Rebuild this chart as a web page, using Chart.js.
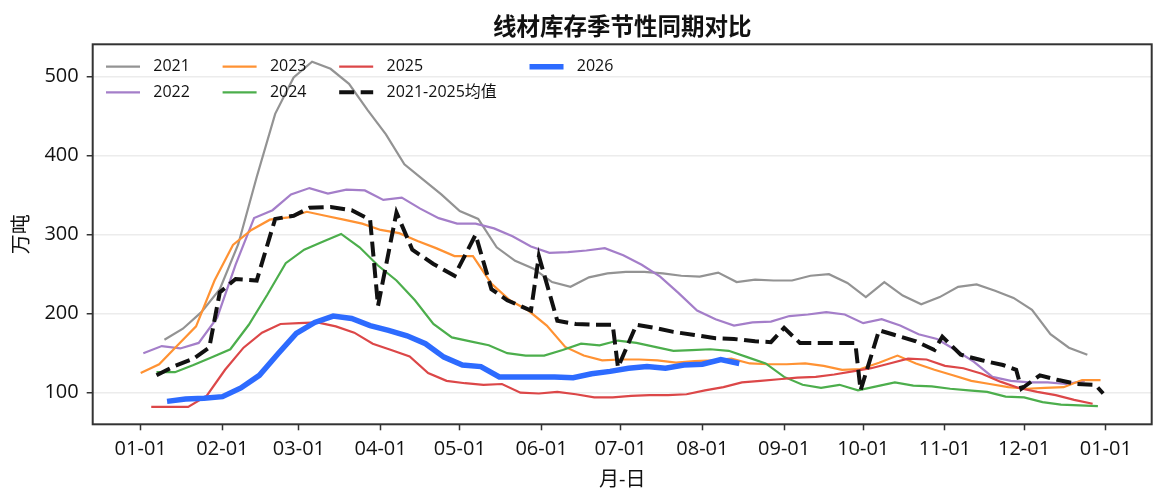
<!DOCTYPE html>
<html>
<head>
<meta charset="utf-8">
<title>线材库存季节性同期对比</title>
<script src="https://cdn.jsdelivr.net/npm/chart.js@4.4.1/dist/chart.umd.min.js"></script>
<style>
    html, body { margin: 0; padding: 0; background: #fff; }
    canvas { display: block; }
</style>
</head>
<body>
<canvas id="chart" width="1166" height="503"></canvas>
<script>
// 周度库存（万吨），日期折算到同一参考年（闰年）
const dates2021 = ['01-10','01-17','01-24','01-31','02-07','02-14','02-21','02-28','03-06','03-13','03-20','03-27','04-03','04-10','04-17','04-24','05-01','05-08','05-15','05-22','05-29','06-05','06-12','06-19','06-26','07-03','07-10','07-17','07-24','07-31','08-07','08-14','08-21','08-28','09-04','09-11','09-18','09-25','10-02','10-09','10-16','10-23','10-30','11-06','11-13','11-20','11-27','12-04','12-11','12-18','12-25'];
const inv2021 = [167,181,202,231,288,373,453,499,519,510,491,458,427,389,370,351,330,320,284,267,257,240,234,246,251,253,253,251,248,247,252,240,243,242,242,248,250,239,221,240,223,212,221,234,237,229,220,205,174,157,148];

const dates2022 = ['01-02','01-09','01-16','01-23','01-30','02-06','02-13','02-20','02-27','03-05','03-12','03-19','03-26','04-02','04-09','04-16','04-23','04-30','05-07','05-14','05-21','05-28','06-04','06-11','06-18','06-25','07-02','07-09','07-16','07-23','07-30','08-06','08-13','08-20','08-27','09-03','09-10','09-17','09-24','10-01','10-08','10-15','10-22','10-29','11-05','11-12','11-19','11-26','12-03','12-10','12-17','12-24'];
const inv2022 = [150,159,156,163,195,262,321,331,351,359,352,357,356,344,347,333,321,314,314,308,298,285,277,278,280,283,274,262,247,226,204,193,185,189,190,197,199,202,199,188,193,185,174,168,154,139,120,115,113,113,111,115];

const dates2023 = ['01-01','01-08','01-15','01-22','01-29','02-05','02-12','02-19','02-26','03-04','03-11','03-18','03-25','04-01','04-08','04-15','04-22','04-29','05-06','05-13','05-20','05-27','06-03','06-10','06-17','06-24','07-01','07-08','07-15','07-22','07-29','08-05','08-12','08-19','08-26','09-02','09-09','09-16','09-23','09-30','10-07','10-14','10-21','10-28','11-04','11-11','11-18','11-25','12-02','12-09','12-16','12-23','12-30'];
const inv2023 = [125,136,160,184,242,287,306,319,322,329,324,319,314,306,302,292,283,273,273,238,217,204,185,158,147,141,142,142,141,138,140,141,143,137,136,136,137,134,129,130,138,147,137,129,122,115,111,107,105,106,107,116,116];

const dates2024 = ['01-07','01-14','01-21','01-28','02-04','02-11','02-18','02-25','03-03','03-10','03-17','03-24','03-31','04-07','04-14','04-21','04-28','05-05','05-12','05-19','05-26','06-02','06-09','06-16','06-23','06-30','07-07','07-14','07-21','07-28','08-04','08-11','08-18','08-25','09-01','09-08','09-15','09-22','09-29','10-06','10-13','10-20','10-27','11-03','11-10','11-17','11-24','12-01','12-08','12-15','12-22','12-29'];
const inv2024 = [126,126,135,145,155,186,224,264,281,291,301,284,261,242,217,187,170,165,160,150,147,147,154,162,160,166,163,158,153,154,155,153,145,137,120,110,106,110,103,108,113,109,108,105,103,101,95,94,88,85,84,83];

const dates2025 = ['01-05','01-12','01-19','01-26','02-02','02-09','02-16','02-23','03-01','03-08','03-15','03-22','03-29','04-05','04-12','04-19','04-26','05-03','05-10','05-17','05-24','05-31','06-07','06-14','06-21','06-28','07-05','07-12','07-19','07-26','08-02','08-09','08-16','08-23','08-30','09-06','09-13','09-20','09-27','10-04','10-11','10-18','10-25','11-01','11-08','11-15','11-22','11-29','12-06','12-13','12-20','12-27'];
const inv2025 = [82,82,82,96,129,157,176,187,188,189,184,176,162,154,146,125,115,112,110,111,100,99,101,98,94,94,96,97,97,98,103,107,113,115,117,119,120,123,127,131,137,143,142,134,131,124,114,106,101,97,91,86];

const dates2026 = ['01-11','01-18','01-25','02-01','02-08','02-15','02-22','02-29','03-07','03-14','03-21','03-28','04-04','04-11','04-18','04-25','05-02','05-09','05-16','05-23','05-30','06-06','06-13','06-20','06-27','07-04','07-11','07-18','07-25','08-01','08-08','08-15'];
const inv2026 = [89,92,93,95,106,122,149,175,189,197,194,185,179,172,162,145,135,133,120,120,120,120,119,124,127,131,133,131,135,136,142,137];

const avgDates = ['01-07','01-14','01-21','01-27','01-31','02-06','02-14','02-21','02-28','03-05','03-13','03-21','03-28','03-31','04-07','04-13','04-21','04-29','05-07','05-13','05-19','05-28','05-31','06-07','06-14','06-21','06-28','06-30','07-07','07-14','07-21','07-29','08-06','08-13','08-21','08-27','09-01','09-07','09-15','09-24','09-28','09-30','10-07','10-13','10-21','10-28','10-31','11-07','11-15','11-23','11-28','11-30','12-07','12-14','12-21','12-28','12-31'];
const avgValues = [122,134,143,157,227,244,242,320,324,334,335,331,319,210,328,281,263,248,300,231,217,204,273,191,187,186,186,132,186,182,177,173,169,168,165,164,182,163,163,163,163,103,179,173,165,154,171,148,141,135,129,105,122,116,111,110,99];

const xTickLabels = ['01-01','02-01','03-01','04-01','05-01','06-01','07-01','08-01','09-01','10-01','11-01','12-01','01-01'];
const yTicks = [100, 200, 300, 400, 500];

const FONT = '"Open Sans", "Noto Sans CJK SC", sans-serif';
const TITLE = '线材库存季节性同期对比';
const REF_YEAR = 2024;
const DAY = 86400000;

function toDay(md) {
    const [m, d] = md.split('-').map(Number);
    return (Date.UTC(REF_YEAR, m - 1, d) - Date.UTC(REF_YEAR, 0, 1)) / DAY;
}

function toPoints(dates, values) {
    return dates.map((d, i) => ({ x: toDay(d), y: values[i] }));
}

// tick i -> first day of month i (i = 12 gives next 01-01)
const xTickDays = xTickLabels.map((_, i) => (Date.UTC(REF_YEAR, i, 1) - Date.UTC(REF_YEAR, 0, 1)) / DAY);

function line(label, dates, values, color, width, order, dash) {
    return {
        label,
        data: toPoints(dates, values),
        borderColor: color,
        backgroundColor: color,
        borderWidth: width,
        borderDash: dash || [],
        pointRadius: 0,
        tension: 0,
        fill: false,
        order
    };
}

// draws the four spines round the plot area
const framePlugin = {
    id: 'frame',
    afterDraw(chart) {
        const { ctx, chartArea: a } = chart;
        ctx.save();
        ctx.strokeStyle = '#333';
        ctx.lineWidth = 2;
        ctx.strokeRect(a.left, a.top, a.right - a.left, a.bottom - a.top);
        ctx.restore();
    }
};

// title centred over the plot area, not the canvas
const titlePlugin = {
    id: 'areaTitle',
    afterDraw(chart) {
        const { ctx, chartArea: a } = chart;
        ctx.save();
        ctx.font = 'bold 23.5px "Noto Sans CJK SC", sans-serif';
        ctx.fillStyle = '#111';
        ctx.textAlign = 'center';
        ctx.textBaseline = 'middle';
        ctx.fillText(TITLE, (a.left + a.right) / 2, 26);
        ctx.restore();
    }
};

// legend inside the plot, 2 rows, filled column by column
const legendPlugin = {
    id: 'cornerLegend',
    afterDraw(chart) {
        const { ctx, chartArea: a } = chart;
        const sets = chart.data.datasets;
        const rows = 2, handle = 34, textGap = 13.3, colGap = 32.7;
        ctx.save();
        ctx.font = '16px ' + FONT;
        ctx.textBaseline = 'middle';
        let x = a.left + 13.3;
        for (let c = 0; c * rows < sets.length; c++) {
            let w = 0;
            for (let r = 0; r < rows; r++) {
                const ds = sets[c * rows + r];
                if (!ds) break;
                const y = a.top + 22.4 + r * 25.6;
                ctx.beginPath();
                ctx.setLineDash(ds.borderDash);
                ctx.lineWidth = ds.borderWidth;
                ctx.strokeStyle = ds.borderColor;
                ctx.moveTo(x, y);
                ctx.lineTo(x + handle, y);
                ctx.stroke();
                ctx.setLineDash([]);
                ctx.fillStyle = '#111';
                ctx.fillText(ds.label, x + handle + textGap, y);
                w = Math.max(w, ctx.measureText(ds.label).width);
            }
            x += handle + textGap + w + colGap;
        }
        ctx.restore();
    }
};

const datasets = [
    line('2021', dates2021, inv2021, '#939393', 2.2, 7),
    line('2022', dates2022, inv2022, '#a47ec9', 2.2, 6),
    line('2023', dates2023, inv2023, '#ff9233', 2.2, 5),
    line('2024', dates2024, inv2024, '#4cae4c', 2.2, 4),
    line('2025', dates2025, inv2025, '#dc4748', 2.2, 3),
    line('2021-2025均值', avgDates, avgValues, '#111111', 4, 2, [15, 6.5]),
    line('2026', dates2026, inv2026, '#2d6bff', 5.5, 1)
];

new Chart(document.getElementById('chart').getContext('2d'), {
    type: 'line',
    data: { datasets },
    options: {
        responsive: false,
        animation: false,
        devicePixelRatio: 1,
        layout: { padding: { top: 44.3, right: 14.3, left: 0, bottom: 0 } },
        plugins: {
            legend: { display: false },
            title: { display: false },
            tooltip: { enabled: false }
        },
        scales: {
            x: {
                type: 'linear',
                min: -18.2,
                max: 383.4,
                afterBuildTicks: s => { s.ticks = xTickDays.map(v => ({ value: v })); },
                afterFit: s => { s.height = 78.7; },
                ticks: {
                    autoSkip: false,
                    maxRotation: 0,
                    padding: 7,
                    color: '#111',
                    font: { size: 20, family: FONT },
                    callback: (v, i) => xTickLabels[i]
                },
                grid: { drawOnChartArea: false, drawTicks: true, tickLength: 6, tickColor: '#333', tickWidth: 1.5 },
                border: { display: false },
                title: { display: true, text: '月-日', color: '#111', font: { size: 20, family: FONT }, padding: { top: 0, bottom: 11 } }
            },
            y: {
                min: 60,
                max: 541,
                afterBuildTicks: s => { s.ticks = yTicks.map(v => ({ value: v })); },
                afterFit: s => { s.width = 92.7; },
                ticks: { padding: 8, color: '#111', font: { size: 20, family: FONT } },
                grid: { color: '#ececec', lineWidth: 1.5, tickLength: 6, tickColor: '#333', tickWidth: 1.5 },
                border: { display: false },
                title: { display: true, text: '万吨', color: '#111', font: { size: 20, family: FONT }, padding: { top: 10.5, bottom: 0 } }
            }
        }
    },
    plugins: [framePlugin, titlePlugin, legendPlugin]
});
</script>
</body>
</html>
